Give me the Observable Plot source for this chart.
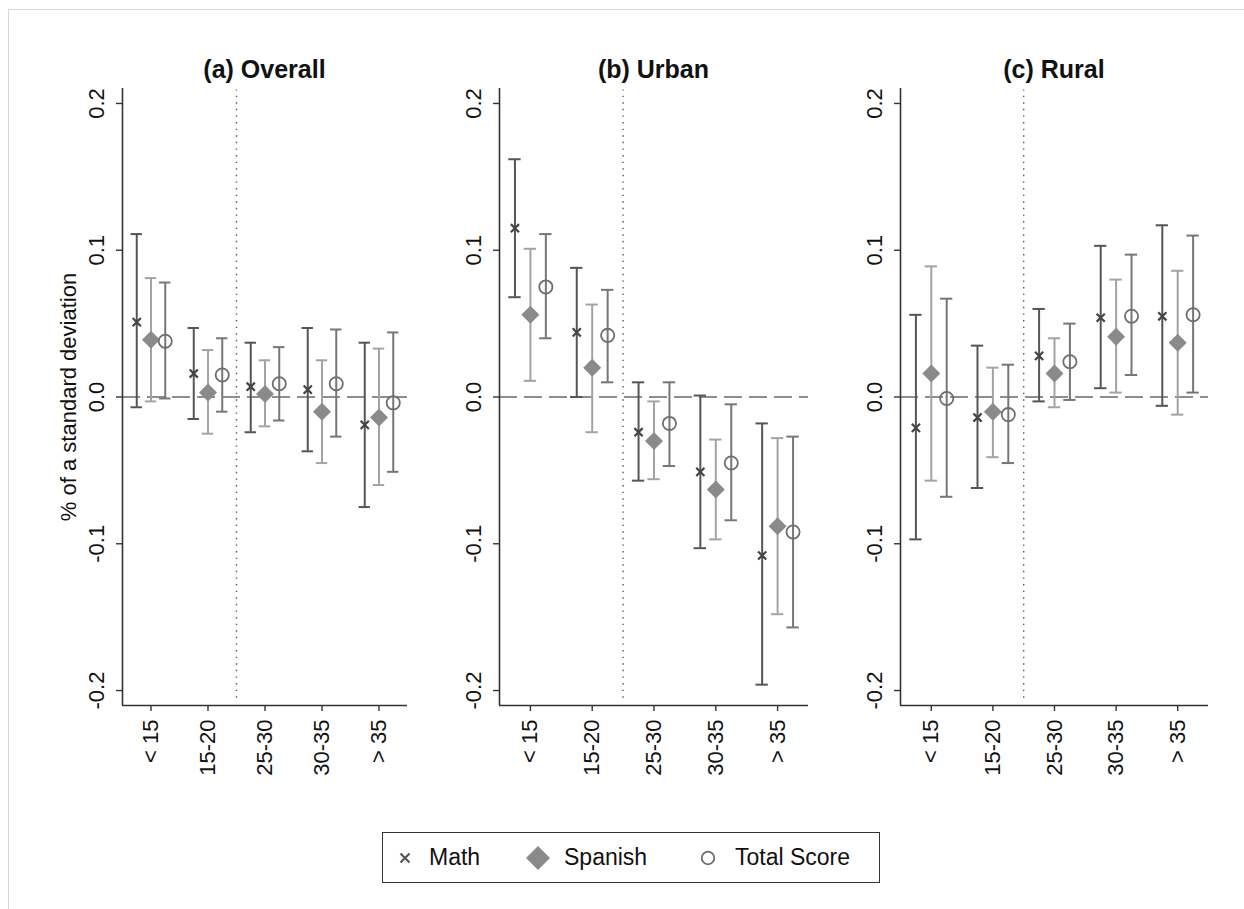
<!DOCTYPE html>
<html>
<head>
<meta charset="utf-8">
<script src="https://cdn.jsdelivr.net/npm/d3@7"></script>
<script src="https://cdn.jsdelivr.net/npm/@observablehq/plot@0.6"></script>
<style>
  html, body { margin: 0; padding: 0; background: #fff; }
  #root { position: relative; width: 1244px; height: 909px; overflow: hidden; font-family: "Liberation Sans", Arial, Helvetica, sans-serif; color: #111; }
  .frameline { position: absolute; left: 8px; top: 9px; right: -2px; bottom: -2px; border-left: 1px solid #d6d6d6; border-top: 1px solid #d6d6d6; }
  .panel { position: absolute; top: 60px; }
  .title { position: absolute; top: 55px; font-weight: bold; font-size: 25px; line-height: 28px; text-align: center; white-space: nowrap; }
  .legend { position: absolute; left: 382px; top: 832px; width: 496px; height: 49px; border: 1.5px solid #333; background: #fff; }
  .legend .item { position: absolute; top: 0; height: 49px; display: flex; align-items: center; font-size: 23px; }
  .legend svg { position: absolute; }
</style>
</head>
<body>
<div id="root">
  <div class="frameline"></div>
</div>
<script>
// ---- data ----
const categories = ["< 15", "15-20", "25-30", "30-35", "> 35"];
const panelTitles = ["(a) Overall", "(b) Urban", "(c) Rural"];
const seriesNames = ["Math", "Spanish", "Total Score"];
const yTicks = [-0.2, -0.1, 0, 0.1, 0.2];

// [estimate, lower CI, upper CI] per age group
const overallMath    = [[0.051, -0.007, 0.111], [0.016, -0.015, 0.047], [0.007, -0.024, 0.037], [0.005, -0.037, 0.047], [-0.019, -0.075, 0.037]];
const overallSpanish = [[0.039, -0.003, 0.081], [0.003, -0.025, 0.032], [0.002, -0.020, 0.025], [-0.010, -0.045, 0.025], [-0.014, -0.060, 0.033]];
const overallTotal   = [[0.038, -0.001, 0.078], [0.015, -0.010, 0.040], [0.009, -0.016, 0.034], [0.009, -0.027, 0.046], [-0.004, -0.051, 0.044]];

const urbanMath      = [[0.115, 0.068, 0.162], [0.044, 0.000, 0.088], [-0.024, -0.057, 0.010], [-0.051, -0.103, 0.001], [-0.108, -0.196, -0.018]];
const urbanSpanish   = [[0.056, 0.011, 0.101], [0.020, -0.024, 0.063], [-0.030, -0.056, -0.003], [-0.063, -0.097, -0.029], [-0.088, -0.148, -0.028]];
const urbanTotal     = [[0.075, 0.040, 0.111], [0.042, 0.010, 0.073], [-0.018, -0.047, 0.010], [-0.045, -0.084, -0.005], [-0.092, -0.157, -0.027]];

const ruralMath      = [[-0.021, -0.097, 0.056], [-0.014, -0.062, 0.035], [0.028, -0.003, 0.060], [0.054, 0.006, 0.103], [0.055, -0.006, 0.117]];
const ruralSpanish   = [[0.016, -0.057, 0.089], [-0.010, -0.041, 0.020], [0.016, -0.007, 0.040], [0.041, 0.003, 0.080], [0.037, -0.012, 0.086]];
const ruralTotal     = [[-0.001, -0.068, 0.067], [-0.012, -0.045, 0.022], [0.024, -0.002, 0.050], [0.055, 0.015, 0.097], [0.056, 0.003, 0.110]];

// ---- styling / layout ----
const FONT = '"Liberation Sans", Arial, Helvetica, sans-serif';
const COL = { Math: "#555555", Spanish: "#a3a3a3", "Total Score": "#767676" };
const DIAMOND_FILL = "#8a8a8a";
const OFFSET = { Math: -0.25, Spanish: 0, "Total Score": 0.25 };
const xDomain = [0.5, 5.5];
const yDomain = [-0.2102, 0.2102];
const MARGIN_LEFT = 80;

const panels = [
  { title: panelTitles[0], data: [overallMath, overallSpanish, overallTotal], axisX: 122, width: 285, ylabel: true },
  { title: panelTitles[1], data: [urbanMath, urbanSpanish, urbanTotal], axisX: 499, width: 309, ylabel: false },
  { title: panelTitles[2], data: [ruralMath, ruralSpanish, ruralTotal], axisX: 900, width: 308, ylabel: false }
];

const root = document.getElementById("root");

panels.forEach(p => {
  const rows = [];
  p.data.forEach((arr, si) => {
    const s = seriesNames[si];
    arr.forEach(([est, lo, hi], ci) => {
      rows.push({ series: s, cat: ci + 1, x: ci + 1 + OFFSET[s], est, lo, hi });
    });
  });
  const bySeries = s => rows.filter(r => r.series === s);

  const chart = Plot.plot({
    width: MARGIN_LEFT + p.width + 10,
    height: 735,
    marginLeft: MARGIN_LEFT,
    marginRight: 10,
    marginTop: 28,
    marginBottom: 90,
    style: { fontFamily: FONT, fontSize: "22px", color: "#111", background: "transparent", overflow: "visible" },
    x: { domain: xDomain },
    y: { domain: yDomain },
    marks: [
      Plot.ruleY([0], { stroke: "#8e8e8e", strokeWidth: 2, strokeDasharray: "18,7" }),
      Plot.ruleX([2.5], { stroke: "#555", strokeWidth: 1.4, strokeDasharray: "1.4,5.2", y1: yDomain[0] + 0.005, y2: yDomain[1] - 0.001 }),
      Plot.ruleX([xDomain[0]], { stroke: "#333", strokeWidth: 1.6 }),
      Plot.ruleY([yDomain[0]], { stroke: "#333", strokeWidth: 1.6 }),
      Plot.axisY({ ticks: yTicks, tickFormat: d => d.toFixed(1), tickRotate: -90, tickSize: 6, tickPadding: 13,
                   stroke: "#333", strokeWidth: 1.4,
                   label: p.ylabel ? "% of a standard deviation" : null, labelAnchor: "center", labelArrow: "none", labelOffset: 62 }),
      Plot.axisX({ ticks: [1, 2, 3, 4, 5], tickFormat: i => categories[i - 1], tickRotate: -90, tickSize: 6, tickPadding: 8,
                   stroke: "#333", strokeWidth: 1.4, label: null }),
      // error bars
      Plot.ruleX(rows, { x: "x", y1: "lo", y2: "hi", stroke: d => COL[d.series], strokeWidth: 2 }),
      Plot.ruleY(rows, { y: "hi", x1: d => d.x - 0.1, x2: d => d.x + 0.1, stroke: d => COL[d.series], strokeWidth: 2 }),
      Plot.ruleY(rows, { y: "lo", x1: d => d.x - 0.1, x2: d => d.x + 0.1, stroke: d => COL[d.series], strokeWidth: 2 }),
      // point estimates
      Plot.dot(bySeries("Math"), { x: "x", y: "est", symbol: "times", r: 3.8, stroke: "#444", strokeWidth: 2.2 }),
      Plot.dot(bySeries("Spanish"), { x: "x", y: "est", symbol: "diamond2", r: 8.1, fill: DIAMOND_FILL, stroke: "none" }),
      Plot.dot(bySeries("Total Score"), { x: "x", y: "est", symbol: "circle", r: 6.6, stroke: "#6e6e6e", strokeWidth: 1.8, fill: "none" })
    ]
  });
  chart.classList.add("panel");
  chart.style.left = (p.axisX - MARGIN_LEFT) + "px";
  root.appendChild(chart);

  const t = document.createElement("div");
  t.className = "title";
  t.textContent = p.title;
  t.style.left = (p.axisX - 50) + "px";
  t.style.width = (p.width + 100) + "px";
  root.appendChild(t);
});

// ---- legend ----
const legend = document.createElement("div");
legend.className = "legend";
const NS = "http://www.w3.org/2000/svg";
function sym(kind, cx) {
  const svg = document.createElementNS(NS, "svg");
  svg.setAttribute("width", 30); svg.setAttribute("height", 30);
  svg.style.left = (cx - 382 - 15) + "px";
  svg.style.top = "10px";
  let el;
  if (kind === "Math") {
    el = document.createElementNS(NS, "path");
    el.setAttribute("d", "M10.5,10.5L19.5,19.5M19.5,10.5L10.5,19.5");
    el.setAttribute("stroke", "#555"); el.setAttribute("stroke-width", "2.2");
  } else if (kind === "Spanish") {
    el = document.createElementNS(NS, "path");
    el.setAttribute("d", "M15,3L27,15L15,27L3,15Z");
    el.setAttribute("fill", DIAMOND_FILL);
  } else {
    el = document.createElementNS(NS, "circle");
    el.setAttribute("cx", 15); el.setAttribute("cy", 15); el.setAttribute("r", 6.3);
    el.setAttribute("fill", "none"); el.setAttribute("stroke", "#6e6e6e"); el.setAttribute("stroke-width", "1.8");
  }
  svg.appendChild(el);
  return svg;
}
const legendItems = [
  { name: seriesNames[0], sx: 404, tx: 428 },
  { name: seriesNames[1], sx: 537, tx: 563 },
  { name: seriesNames[2], sx: 707, tx: 734 }
];
legendItems.forEach(it => {
  legend.appendChild(sym(it.name, it.sx));
  const lab = document.createElement("div");
  lab.className = "item";
  lab.style.left = (it.tx - 382) + "px";
  lab.textContent = it.name;
  legend.appendChild(lab);
});
root.appendChild(legend);
</script>
</body>
</html>
